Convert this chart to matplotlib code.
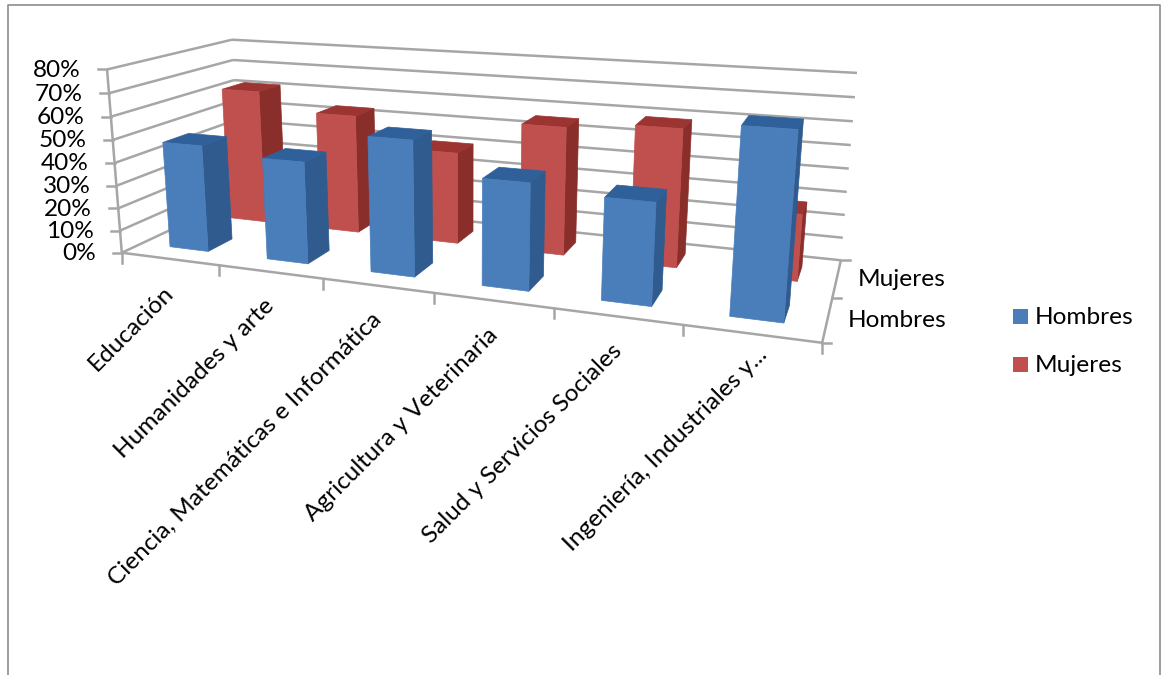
import numpy as np
import matplotlib
matplotlib.use("Agg")
import matplotlib.pyplot as plt
from matplotlib.patches import Polygon, Rectangle

categories = ["Educación", "Humanidades y arte", "Ciencia, Matemáticas e Informática",
              "Agricultura y Veterinaria", "Salud y Servicios Sociales", "Ingeniería, Industriales y..."]
hombres = [47, 44, 57, 44, 41, 72]
mujeres = [62, 54, 41, 56, 59, 28]
series_names = ["Hombres", "Mujeres"]
yticks = [0, 10, 20, 30, 40, 50, 60, 70, 80]

BLUE = dict(front="#4a7ebb", side="#2f5b8e", top="#2f6099")
RED = dict(front="#c0504d", side="#8a2e2b", top="#9c3431")
GRID = "#a6a6a6"
FONT = "Lato"
FS = 17.6

# camera fitted to the chart box corners: (cat, depth, value) -> pixel
src = np.array([(0,0,0),(6,0,0),(0,2,0),(6,2,0),(0,0,80),(0,2,80),(6,2,80)], float)
dst = np.array([(122,253),(822,343),(240,197),(841,260),(107,69),(232,40),(857,73)], float)
A, b = [], []
for (X,Y,Z),(u,v) in zip(src,dst):
    A.append([X,Y,Z,1,0,0,0,0,-u*X,-u*Y,-u*Z]); b.append(u)
    A.append([0,0,0,0,X,Y,Z,1,-v*X,-v*Y,-v*Z]); b.append(v)
P = np.append(np.linalg.lstsq(np.array(A),np.array(b),rcond=None)[0],1).reshape(3,4)
def proj(x,y,z):
    h = P @ np.array([x,y,z,1.0])
    return h[0]/h[2], h[1]/h[2]

fig = plt.figure(figsize=(11.66,6.75),dpi=100)
ax = fig.add_axes([0,0,1,1]); ax.set_xlim(0,1166); ax.set_ylim(675,0); ax.axis("off")

# chart frame
ax.plot([8,8,1160,1160],[675,5,5,675],color="#8c8c8c",lw=1.2,zorder=1)

def line(a,b,lw=1.8,z=2):
    pa,pb = proj(*a),proj(*b)
    ax.plot([pa[0],pb[0]],[pa[1],pb[1]],color=GRID,lw=lw,zorder=z,solid_capstyle="butt")

for v in yticks:
    line((0,0,v),(0,2,v)); line((0,2,v),(6,2,v))
    p = proj(0,0,v)
    ax.plot([p[0]-9,p[0]],[p[1],p[1]],color=GRID,lw=1.8,zorder=2)
    ax.text(p[0]-26,p[1]+1,f"{v}%",ha="right",va="center",fontsize=FS,family=FONT,color="black")
line((0,0,0),(0,0,80)); line((0,0,0),(6,0,0)); line((6,0,0),(6,2,0))
for i in range(7):
    p = proj(i,0,0)
    ax.plot([p[0],p[0]],[p[1],p[1]+10],color=GRID,lw=1.8,zorder=2)
for j in range(3):
    p = proj(6,j,0)
    ax.plot([p[0],p[0]+9],[p[1],p[1]],color=GRID,lw=1.8,zorder=2)

def bar(i,j,val,cols,z):
    x0,x1 = i+.3,i+.7
    y0,y1 = j+.3,j+.7
    front = [proj(x0,y0,0),proj(x1,y0,0),proj(x1,y0,val),proj(x0,y0,val)]
    side = [proj(x1,y0,0),proj(x1,y1,0),proj(x1,y1,val),proj(x1,y0,val)]
    top = [proj(x0,y0,val),proj(x1,y0,val),proj(x1,y1,val),proj(x0,y1,val)]
    for pts,c in ((side,cols["side"]),(top,cols["top"]),(front,cols["front"])):
        ax.add_patch(Polygon(pts,closed=True,fc=c,ec=c,lw=.5,zorder=z))

z = 3
for j,(vals,cols) in reversed(list(enumerate(((hombres,BLUE),(mujeres,RED))))):
    for i,val in enumerate(vals):
        bar(i,j,val,cols,z); z += 1

# category labels
for i,c in enumerate(categories):
    p = proj(i+.5,0,0)
    dx,dy = (1,31) if i < 5 else (13,18)
    ax.text(p[0]+dx,p[1]+dy,c,rotation=45,rotation_mode="anchor",ha="right",va="center",
            fontsize=FS,family=FONT,color="black",zorder=50)
# depth labels
for j,name in enumerate(series_names):
    ax.text(946,proj(6,j+.5,0)[1]+1,name,ha="right",va="center",fontsize=FS,family=FONT,color="black")
# legend
for k,(name,cols) in enumerate(zip(series_names,(BLUE,RED))):
    yy = 317+48*k
    ax.add_patch(Rectangle((1013,yy-8),15,15,fc=cols["front"],ec="none"))
    ax.text(1035,yy+1,name,ha="left",va="center",fontsize=FS,family=FONT,color="black")
fig.savefig("out.png",dpi=100,facecolor="white")
